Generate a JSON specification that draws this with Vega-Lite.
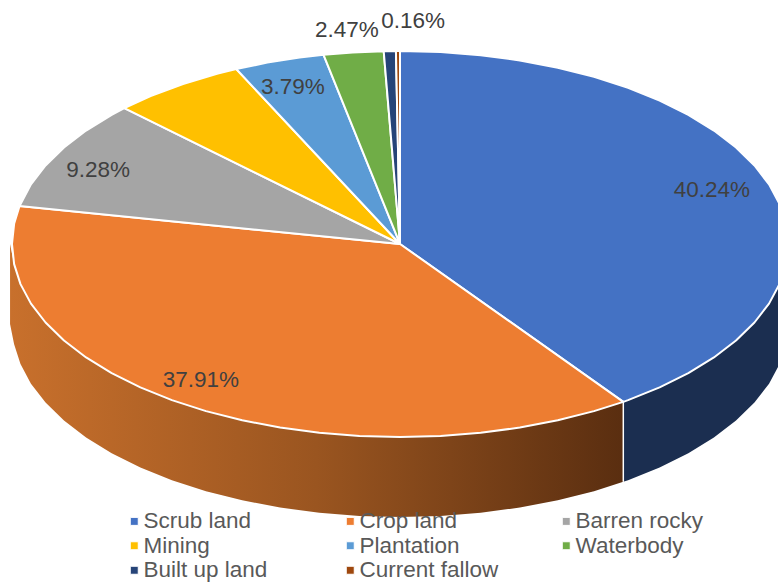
{"$schema":"https://vega.github.io/schema/vega-lite/v6.json","width":778,"height":582,"padding":0,"autosize":{"type":"none"},"background":"white","config":{"view":{"stroke":null},"font":"Liberation Sans"},
"datasets":{
"wall":[
{"part":"Scrub land","x":1,"y":0,"y2":-0.4145},{"part":"Scrub land","x":0.9945,"y":-0.1045,"y2":-0.519},{"part":"Scrub land","x":0.9781,"y":-0.2079,"y2":-0.6224},{"part":"Scrub land","x":0.9511,"y":-0.309,"y2":-0.7235},{"part":"Scrub land","x":0.9135,"y":-0.4067,"y2":-0.8212},{"part":"Scrub land","x":0.866,"y":-0.5,"y2":-0.9145},{"part":"Scrub land","x":0.809,"y":-0.5878,"y2":-1.0023},{"part":"Scrub land","x":0.7431,"y":-0.6691,"y2":-1.0836},{"part":"Scrub land","x":0.6691,"y":-0.7431,"y2":-1.1576},{"part":"Scrub land","x":0.5878,"y":-0.809,"y2":-1.2235},{"part":"Scrub land","x":0.5755,"y":-0.8178,"y2":-1.2323},
{"part":"Crop land","x":0.5755,"y":-0.8178,"y2":-1.2323},{"part":"Crop land","x":0.5,"y":-0.866,"y2":-1.2805},{"part":"Crop land","x":0.4067,"y":-0.9135,"y2":-1.328},{"part":"Crop land","x":0.309,"y":-0.9511,"y2":-1.3656},{"part":"Crop land","x":0.2079,"y":-0.9781,"y2":-1.3926},{"part":"Crop land","x":0.1045,"y":-0.9945,"y2":-1.409},{"part":"Crop land","x":0,"y":-1,"y2":-1.4145},{"part":"Crop land","x":-0.1045,"y":-0.9945,"y2":-1.409},{"part":"Crop land","x":-0.2079,"y":-0.9781,"y2":-1.3926},{"part":"Crop land","x":-0.309,"y":-0.9511,"y2":-1.3656},{"part":"Crop land","x":-0.4067,"y":-0.9135,"y2":-1.328},{"part":"Crop land","x":-0.5,"y":-0.866,"y2":-1.2805},{"part":"Crop land","x":-0.5878,"y":-0.809,"y2":-1.2235},{"part":"Crop land","x":-0.6691,"y":-0.7431,"y2":-1.1576},{"part":"Crop land","x":-0.7431,"y":-0.6691,"y2":-1.0836},{"part":"Crop land","x":-0.809,"y":-0.5878,"y2":-1.0023},{"part":"Crop land","x":-0.866,"y":-0.5,"y2":-0.9145},{"part":"Crop land","x":-0.9135,"y":-0.4067,"y2":-0.8212},{"part":"Crop land","x":-0.9511,"y":-0.309,"y2":-0.7235},{"part":"Crop land","x":-0.9781,"y":-0.2079,"y2":-0.6224},{"part":"Crop land","x":-0.9945,"y":-0.1045,"y2":-0.519},{"part":"Crop land","x":-1.005,"y":0,"y2":-0.4145}
],
"top":[
{"slice":"Scrub land","seq":0,"x":0,"y":0},{"slice":"Scrub land","seq":1,"x":0,"y":1},{"slice":"Scrub land","seq":2,"x":0.1045,"y":0.9945},{"slice":"Scrub land","seq":3,"x":0.2079,"y":0.9781},{"slice":"Scrub land","seq":4,"x":0.309,"y":0.9511},{"slice":"Scrub land","seq":5,"x":0.4067,"y":0.9135},{"slice":"Scrub land","seq":6,"x":0.5,"y":0.866},{"slice":"Scrub land","seq":7,"x":0.5878,"y":0.809},{"slice":"Scrub land","seq":8,"x":0.6691,"y":0.7431},{"slice":"Scrub land","seq":9,"x":0.7431,"y":0.6691},{"slice":"Scrub land","seq":10,"x":0.809,"y":0.5878},{"slice":"Scrub land","seq":11,"x":0.866,"y":0.5},{"slice":"Scrub land","seq":12,"x":0.9135,"y":0.4067},{"slice":"Scrub land","seq":13,"x":0.9511,"y":0.309},{"slice":"Scrub land","seq":14,"x":0.9781,"y":0.2079},{"slice":"Scrub land","seq":15,"x":0.9945,"y":0.1045},{"slice":"Scrub land","seq":16,"x":1,"y":0},{"slice":"Scrub land","seq":17,"x":0.9945,"y":-0.1045},{"slice":"Scrub land","seq":18,"x":0.9781,"y":-0.2079},{"slice":"Scrub land","seq":19,"x":0.9511,"y":-0.309},{"slice":"Scrub land","seq":20,"x":0.9135,"y":-0.4067},{"slice":"Scrub land","seq":21,"x":0.866,"y":-0.5},{"slice":"Scrub land","seq":22,"x":0.809,"y":-0.5878},{"slice":"Scrub land","seq":23,"x":0.7431,"y":-0.6691},{"slice":"Scrub land","seq":24,"x":0.6691,"y":-0.7431},{"slice":"Scrub land","seq":25,"x":0.5878,"y":-0.809},{"slice":"Scrub land","seq":26,"x":0.5755,"y":-0.8178},{"slice":"Scrub land","seq":27,"x":0,"y":0},
{"slice":"Crop land","seq":0,"x":0,"y":0},{"slice":"Crop land","seq":1,"x":0.5755,"y":-0.8178},{"slice":"Crop land","seq":2,"x":0.5,"y":-0.866},{"slice":"Crop land","seq":3,"x":0.4067,"y":-0.9135},{"slice":"Crop land","seq":4,"x":0.309,"y":-0.9511},{"slice":"Crop land","seq":5,"x":0.2079,"y":-0.9781},{"slice":"Crop land","seq":6,"x":0.1045,"y":-0.9945},{"slice":"Crop land","seq":7,"x":0,"y":-1},{"slice":"Crop land","seq":8,"x":-0.1045,"y":-0.9945},{"slice":"Crop land","seq":9,"x":-0.2079,"y":-0.9781},{"slice":"Crop land","seq":10,"x":-0.309,"y":-0.9511},{"slice":"Crop land","seq":11,"x":-0.4067,"y":-0.9135},{"slice":"Crop land","seq":12,"x":-0.5,"y":-0.866},{"slice":"Crop land","seq":13,"x":-0.5878,"y":-0.809},{"slice":"Crop land","seq":14,"x":-0.6691,"y":-0.7431},{"slice":"Crop land","seq":15,"x":-0.7431,"y":-0.6691},{"slice":"Crop land","seq":16,"x":-0.809,"y":-0.5878},{"slice":"Crop land","seq":17,"x":-0.866,"y":-0.5},{"slice":"Crop land","seq":18,"x":-0.9135,"y":-0.4067},{"slice":"Crop land","seq":19,"x":-0.9511,"y":-0.309},{"slice":"Crop land","seq":20,"x":-0.9781,"y":-0.2079},{"slice":"Crop land","seq":21,"x":-0.9945,"y":-0.1045},{"slice":"Crop land","seq":22,"x":-1,"y":0},{"slice":"Crop land","seq":23,"x":-0.9945,"y":0.1045},{"slice":"Crop land","seq":24,"x":-0.9805,"y":0.1966},{"slice":"Crop land","seq":25,"x":0,"y":0},
{"slice":"Barren rocky","seq":0,"x":0,"y":0},{"slice":"Barren rocky","seq":1,"x":-0.9805,"y":0.1966},{"slice":"Barren rocky","seq":2,"x":-0.9511,"y":0.309},{"slice":"Barren rocky","seq":3,"x":-0.9135,"y":0.4067},{"slice":"Barren rocky","seq":4,"x":-0.866,"y":0.5},{"slice":"Barren rocky","seq":5,"x":-0.809,"y":0.5878},{"slice":"Barren rocky","seq":6,"x":-0.7431,"y":0.6691},{"slice":"Barren rocky","seq":7,"x":-0.7105,"y":0.7037},{"slice":"Barren rocky","seq":8,"x":0,"y":0},
{"slice":"Mining","seq":0,"x":0,"y":0},{"slice":"Mining","seq":1,"x":-0.7105,"y":0.7037},{"slice":"Mining","seq":2,"x":-0.6428,"y":0.766},{"slice":"Mining","seq":3,"x":-0.5592,"y":0.829},{"slice":"Mining","seq":4,"x":-0.4695,"y":0.8829},{"slice":"Mining","seq":5,"x":-0.422,"y":0.9066},{"slice":"Mining","seq":6,"x":0,"y":0},
{"slice":"Plantation","seq":0,"x":0,"y":0},{"slice":"Plantation","seq":1,"x":-0.422,"y":0.9066},{"slice":"Plantation","seq":2,"x":-0.342,"y":0.9397},{"slice":"Plantation","seq":3,"x":-0.2588,"y":0.9659},{"slice":"Plantation","seq":4,"x":-0.197,"y":0.9804},{"slice":"Plantation","seq":5,"x":0,"y":0},
{"slice":"Waterbody","seq":0,"x":0,"y":0},{"slice":"Waterbody","seq":1,"x":-0.197,"y":0.9804},{"slice":"Waterbody","seq":2,"x":-0.1219,"y":0.9925},{"slice":"Waterbody","seq":3,"x":-0.042,"y":0.9991},{"slice":"Waterbody","seq":4,"x":0,"y":0},
{"slice":"Built up land","seq":0,"x":0,"y":0},{"slice":"Built up land","seq":1,"x":-0.042,"y":0.9991},{"slice":"Built up land","seq":2,"x":-0.0105,"y":0.9999},{"slice":"Built up land","seq":3,"x":0,"y":0},
{"slice":"Current fallow","seq":0,"x":0,"y":0},{"slice":"Current fallow","seq":1,"x":-0.0105,"y":0.9999},{"slice":"Current fallow","seq":2,"x":0,"y":1},{"slice":"Current fallow","seq":3,"x":0,"y":0}
],
"labels":[
{"label":"40.24%","x":0.804,"y":0.28},{"label":"37.91%","x":-0.513,"y":-0.705},{"label":"9.28%","x":-0.778,"y":0.383},{"label":"3.79%","x":-0.276,"y":0.813},{"label":"2.47%","x":-0.137,"y":1.109},{"label":"0.16%","x":0.034,"y":1.155}
]},
"encoding":{"x":{"field":"x","type":"quantitative","axis":null,"scale":{"domain":[-1.0309,0.9742],"nice":false,"zero":false}},"y":{"field":"y","type":"quantitative","axis":null,"scale":{"domain":[-1.7513,1.2642],"nice":false,"zero":false}}},
"layer":[
{"data":{"name":"wall"},"transform":[{"filter":"datum.part==='Scrub land'"}],"mark":{"type":"area","clip":true,"color":"#1B2E50"},"encoding":{"y2":{"field":"y2"}}},
{"data":{"name":"wall"},"transform":[{"filter":"datum.part==='Crop land'"}],"mark":{"type":"area","clip":true,"color":{"gradient":"linear","x1":0,"x2":1,"y1":0,"y2":0,"stops":[{"offset":0,"color":"#C8702C"},{"offset":0.5,"color":"#9A5520"},{"offset":1,"color":"#5A2E10"}]}},"encoding":{"y2":{"field":"y2"}}},
{"data":{"name":"wall"},"transform":[{"filter":"datum.part==='Crop land' && datum.x===0.5755"}],"mark":{"type":"rule","color":"white","strokeWidth":1.5},"encoding":{"y2":{"field":"y2"}}},
{"data":{"name":"top"},"mark":{"type":"line","clip":true,"filled":true,"stroke":"white","strokeWidth":2,"strokeJoin":"round"},"encoding":{"order":{"field":"seq","type":"quantitative"},"fill":{"field":"slice","type":"nominal","scale":{"domain":["Scrub land","Crop land","Barren rocky","Mining","Plantation","Waterbody","Built up land","Current fallow"],"range":["#4472C4","#ED7D31","#A5A5A5","#FFC000","#5B9BD5","#70AD47","#264478","#9E480E"]},"legend":{"title":null,"orient":"none","legendX":123,"legendY":510,"direction":"horizontal","columns":3,"columnPadding":56,"rowPadding":1.5,"gridAlign":"all","symbolType":"square","symbolSize":64,"symbolStrokeColor":"white","symbolStrokeWidth":1,"symbolOpacity":1,"labelFont":"Liberation Sans","labelFontSize":22.5,"labelColor":"#595959","labelLimit":300,"labelOffset":-2,"zindex":1}}}},
{"data":{"name":"labels"},"mark":{"type":"text","fontSize":22.5,"color":"#404040","font":"Liberation Sans","baseline":"middle","align":"center"},"encoding":{"text":{"field":"label"}}}
]}
